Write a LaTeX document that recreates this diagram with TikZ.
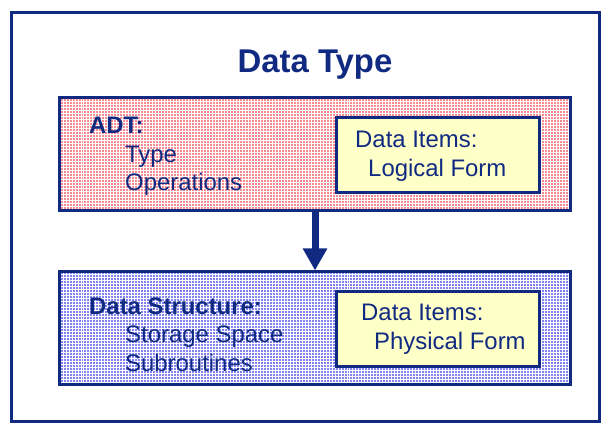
\documentclass[tikz,border=0pt]{standalone}
\usepackage{fontspec}
\setmainfont{Liberation Sans}
\usetikzlibrary{patterns,arrows.meta}
\definecolor{navy}{RGB}{16,42,130}
\definecolor{pinkbg}{RGB}{246,140,145}
\definecolor{bluebg}{RGB}{130,130,240}
\definecolor{paleyellow}{RGB}{255,255,200}
\tikzset{
	frame/.style={draw=navy, line width=3bp},
	layer/.style={frame, minimum width=510bp, minimum height=113bp, inner sep=0pt},
	itembox/.style={frame, fill=paleyellow, minimum width=203bp, minimum height=75bp, inner sep=0pt},
	lbl/.style={anchor=base west, inner sep=0pt, text=navy, font=\fontsize{24}{27}\selectfont},
	head/.style={lbl, font=\fontsize{24}{27}\selectfont\bfseries}
}
\begin{document}
\begin{tikzpicture}[x=1bp, y=-1bp]
	\useasboundingbox (0,0) rectangle (611,433);
	\draw[frame] (11.5,12.5) rectangle (599.5,421.5);
	\node[text=navy, font=\fontsize{33}{36}\selectfont\bfseries, anchor=base] (title) at (315,73) {Data Type};
	% upper layer
	\node[layer, preaction={fill=pinkbg}, pattern=grid, pattern color=white] (adt) at (315,154.5) {};
	\node[itembox] (logical) at (437.5,155.5) {};
	\node[head] (adtname) at (89,134) {ADT:};
	\node[lbl] (type) at (125,163) {Type};
	\node[lbl] (ops) at (125,191) {Operations};
	\node[lbl] (items1) at (355,148) {Data Items:};
	\node[lbl] (lform) at (368,177) {Logical Form};
	% lower layer
	\node[layer, preaction={fill=bluebg}, pattern=grid, pattern color=white, minimum height=112bp] (ds) at (315,328) {};
	\node[itembox] (physical) at (437.5,329) {};
	\node[head] (dsname) at (89,314) {Data Structure:};
	\node[lbl] (storage) at (125,342) {Storage Space};
	\node[lbl] (subs) at (125,371) {Subroutines};
	\node[lbl] (items2) at (361,320) {Data Items:};
	\node[lbl] (pform) at (374,349) {Physical Form};
	\draw[navy, line width=7bp, -{Triangle[width=23bp, length=22bp]}] (adt.south) -- (ds.north);
\end{tikzpicture}
\end{document}
